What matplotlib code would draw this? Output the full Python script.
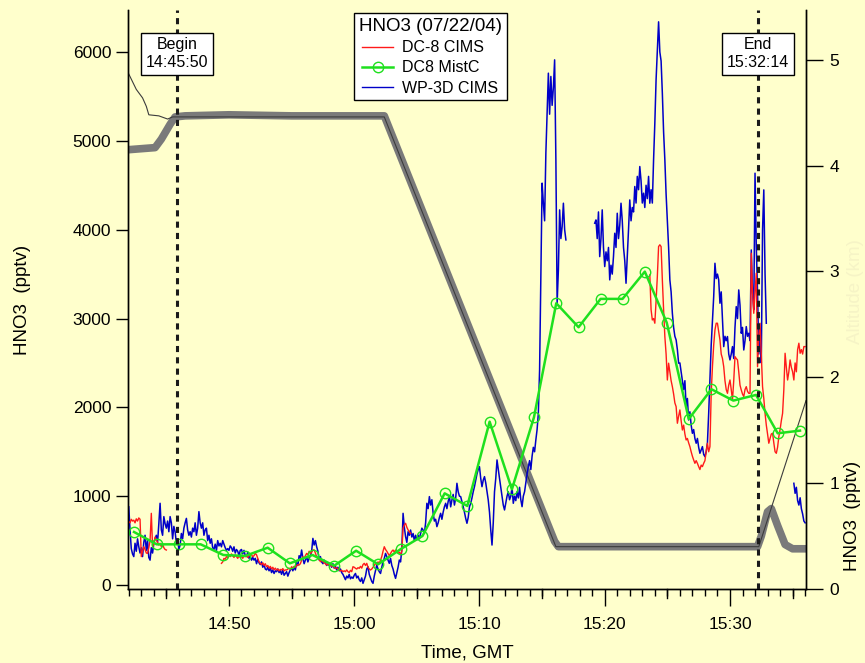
import numpy as np
import matplotlib
matplotlib.use("Agg")
import matplotlib.pyplot as plt
from matplotlib.ticker import FuncFormatter, MultipleLocator

plt.rcParams['font.family'] = ['Liberation Sans', 'DejaVu Sans']

# time axis: minutes after 14:00 GMT
BEGIN_T = 45 + 50 / 60.0   # 14:45:50
END_T = 92 + 14 / 60.0     # 15:32:14

# WP-3D CIMS HNO3 (pptv), 6 s samples, three stretches
wp3d_a_start = 42.0
wp3d_a = [
    880, 620, 410, 350, 320, 470, 380, 520, 430, 360,
    420, 320, 480, 560, 390, 500, 310, 280, 420, 360,
    470, 520, 560, 480, 690, 920, 620, 560, 770, 690,
    640, 720, 600, 770, 700, 520, 660, 600, 470, 520,
    400, 450, 580, 520, 640, 700, 750, 620, 560, 600,
    540, 640, 600, 700, 560, 640, 826, 700, 640, 700,
    560, 620, 640, 500, 560, 470, 520, 420, 400, 460,
    390, 500, 440, 470, 430, 500, 460, 420, 390, 410,
    390, 440, 420, 380, 430, 360, 400, 380, 330, 390,
    400, 350, 390, 330, 320, 370, 300, 320, 280, 310,
    280, 300, 240, 290, 250, 230, 260, 200, 230, 180,
    170, 200, 160, 190, 140, 170, 130, 160, 150, 180,
    140, 160, 120, 170, 110, 130, 150, 100, 140, 170,
    190, 160, 200, 170, 250, 220, 330, 300, 394, 300,
    240, 280, 320, 260, 300, 330, 380, 525, 450, 500,
    431, 380, 281, 320, 260, 240, 280, 250, 220, 240,
    220, 230, 200, 240, 190, 210, 170, 200, 160, 180,
    140, 120, 90, 60, 100, 80, 120, 70, 90, 75,
    110, 130, 80, 100, 60, 40, 80, 19, 60, 100,
    180, 206, 120, 80, 40, 19, 100, 160, 225, 180,
    150, 130, 200, 260, 300, 356, 320, 280, 244, 300,
    220, 180, 120, 75, 140, 200, 281, 260, 400, 807,
    650, 544, 480, 600, 560, 619, 540, 580, 500, 560,
    507, 560, 520, 582, 640, 619, 580, 700, 920, 860,
    995, 900, 960, 807, 720, 740, 657, 700, 760, 807,
    740, 820, 880, 920, 860, 940, 1000, 880, 957, 1020,
    900, 980, 1145, 1050, 1000, 995, 940, 882, 820, 750,
    695, 760, 880, 920, 980, 1050, 1107, 1180, 1250, 1300,
    1332, 1200, 1107, 1180, 1220, 1150, 1050, 957, 820, 620,
    450, 700, 1050, 1200, 1408, 1300, 1200, 1100, 1000, 900,
    845, 920, 1000, 1050, 960, 1000, 1100, 920, 1000, 950,
    1050, 980, 1100, 960, 882, 1000, 1050, 1150, 1250, 1332,
    1400, 1300, 1450, 1550, 1500, 1633, 1750, 1933, 2421, 3435,
    4524, 4300, 4100, 4861, 5300, 5762, 5300, 5725, 5400, 5600,
    5912, 4786, 3173, 3547, 4223, 3900, 4035, 4298, 4000, 3885,
]
wp3d_b_start = 79.2
wp3d_b = [
    4073, 4110, 3900, 4200, 3697, 3900, 4223, 3800,
    3585, 3750, 3650, 3800, 3435, 3600, 3500, 3700, 3960, 3800,
    4185, 3900, 4050, 4298, 4100, 3800, 3650, 3397, 3700, 4000,
    4335, 4100, 4250, 4200, 4486, 4300, 4600, 4450, 4711, 4550,
    4300, 4411, 4250, 4500, 4350, 4600, 4298, 4450, 4300, 4786,
    5200, 5687, 6000, 6340, 6000, 5900, 5537, 5100, 4786, 4400,
    4110, 3800, 3435, 3300, 3059, 2900, 2800, 2759, 2650, 2497,
    2500, 2400, 2308, 2200, 2300, 2008, 2100, 1858, 1950, 1800,
    1708, 1750, 1650, 1596, 1650, 1550, 1483, 1520, 1558, 1470,
    1445, 1500, 1600, 1933, 2308, 2700, 2984, 3247, 3622, 3450,
    3500, 3435, 3172, 3300, 2984, 2684, 2800, 2750, 2797, 2600,
    2534, 2600, 2684, 2550, 2900, 3134, 3000, 3322, 3150, 2834,
    2900, 2646, 2750, 2909, 2800, 2834, 2750, 3772, 3300, 3100,
    4636, 3810, 3300, 2600, 2800, 2500, 4000, 4448, 3500, 2947,
]
wp3d_c_start = 95.1
wp3d_c = [1145, 1032, 1100, 950, 900, 982, 859, 800, 720, 700]

# DC-8 CIMS HNO3 (pptv), 6 s samples
dc8_a_start = 42.0
dc8_a = [
    713, 700, 740, 720, 730, 700, 745, 720, 755, 740,
    320, 380, 431, 400, 360, 356, 420, 500, 807, 431,
    460, 540, 507, 480, 450, 470, 431, 460, 420, 400,
    394,
]
dc8_b_start = 49.4
dc8_b = [
    244, 260, 300, 290, 320, 310,
    338, 320, 350, 330, 310, 340, 320, 300, 330, 310,
    320, 300, 330, 319, 340, 310, 330, 350, 340, 320,
    330, 357, 340, 300, 260, 244, 230, 250, 220, 240,
    206, 220, 190, 210, 180, 200, 170, 190, 169, 180,
    160, 175, 169, 185, 160, 170, 169, 180, 190, 175,
    206, 190, 210, 200, 215, 230, 225, 240, 280, 319,
    300, 330, 356, 340, 380, 356, 370, 394, 394, 360,
    319, 300, 290, 262, 280, 262, 250, 240, 225, 240,
    225, 230, 210, 220, 200, 188, 195, 180, 170, 160,
    165, 150, 160, 150, 170, 150, 140, 165, 150, 206,
    200, 188, 180, 195, 188, 210, 190, 230, 244, 220,
    244, 200, 180, 169, 180, 200, 220, 244, 230, 260,
    244, 280, 320, 380, 431, 400, 380, 356, 330, 356,
    380, 394, 370, 394, 380, 356, 370, 340, 380, 640,
    676, 695, 650, 620, 600, 580,
]
dc8_c_start = 83.6
dc8_c = [
    3491, 3100, 2984, 3000,
    2947, 3200, 3472, 3810, 3830, 3810, 3435, 3100, 2797, 2600,
    2308, 2497, 2400, 2300, 2233, 2150, 2050, 2008, 1821, 1900,
    1971, 1850, 1745, 1800, 1700, 1633, 1650, 1600, 1558, 1500,
    1450, 1408, 1370, 1400, 1370, 1333, 1300, 1350, 1333, 1370,
    1400, 1500, 1596, 1500, 1558, 2158, 2458, 2700, 2871, 2947,
    2947, 2850, 2759, 2600, 2550, 2458, 2300, 2200, 2158, 2250,
    2308, 2200, 2083, 2300, 2571, 2550, 2534, 2400, 2250, 2196,
    2150, 2121, 2200, 2233, 2180, 2158, 2158, 3735, 3300, 3059,
    3300, 3510, 2458, 2800, 2947, 2600, 2233, 2100, 1933, 1800,
    1700, 1596, 1650, 1700, 1708, 1600, 1500, 1483, 1550, 1670,
    1750, 1850, 1933, 2200, 2609, 2450, 2308, 2400, 2534, 2450,
    2400, 2308, 2500, 2400, 2650, 2722, 2609, 2650, 2600, 2684,
    2684,
]

# DC-8 mist chamber averages
mistc_t = [42.42, 44.23, 46.04, 47.74, 49.55, 51.28, 53.09, 54.86, 56.67, 58.40,
           60.15, 61.91, 63.72, 65.45, 67.22, 69.03, 70.81, 72.59, 74.35, 76.13,
           77.91, 79.67, 81.42, 83.20, 84.95, 86.71, 88.52, 90.27, 92.08, 93.81,
           95.59]
mistc_v = [597, 458, 458, 458, 338, 327, 420, 244, 338, 217,
           386, 233, 405, 552, 1032, 890, 1839, 1077, 1888, 3172,
           2902, 3221, 3221, 3528, 2954, 1869, 2204, 2076, 2140, 1708,
           1738]

# altitudes (km)
p3_alt_t = [41.94, 44.1, 44.6, 45.0, 45.3, 45.7, 46.5, 50.0, 55.0, 62.4,
            76.0, 76.3, 85.0, 92.2, 92.5, 93.0, 93.3, 93.8, 94.4, 95.0, 96.07]
p3_alt = [4.15, 4.17, 4.25, 4.33, 4.39, 4.46, 4.47, 4.48, 4.47, 4.47,
          0.45, 0.40, 0.40, 0.40, 0.50, 0.73, 0.76, 0.60, 0.42, 0.38, 0.38]
dc8_alt_t = [41.94, 42.6, 43.1, 43.4, 43.6, 44.4, 45.1, 45.5, 62.4, 76.1, 92.3, 96.07]
dc8_alt = [4.88, 4.72, 4.64, 4.56, 4.48, 4.47, 4.44, 4.46, 4.46, 0.40, 0.40, 1.78]


def times(start, vals):
    return start + 0.1 * np.arange(len(vals))


bg = '#ffffcc'
fig = plt.figure(figsize=(8.65, 6.63), dpi=100, facecolor=bg)
ax = fig.add_axes([0.148, 0.1116, 0.7838, 0.8733])
ax2 = ax.twinx()
ax.set_zorder(ax2.get_zorder() + 1)
ax.patch.set_visible(False)
ax2.set_facecolor(bg)

# altitude traces on the right axis
ax2.plot(p3_alt_t, p3_alt, color='#7a7a7a', lw=5.5, solid_capstyle='round',
         solid_joinstyle='round')
ax2.plot(dc8_alt_t, dc8_alt, color='#3c3c3c', lw=0.8)

# HNO3 traces
for st, vals in [(wp3d_a_start, wp3d_a), (wp3d_b_start, wp3d_b), (wp3d_c_start, wp3d_c)]:
    ax.plot(times(st, vals), vals, color='#0000c8', lw=1.1)
for st, vals in [(dc8_a_start, dc8_a), (dc8_b_start, dc8_b), (dc8_c_start, dc8_c)]:
    ax.plot(times(st, vals), vals, color='#ff1a1a', lw=1.0)
ax.plot(mistc_t, mistc_v, color='#1ee01e', lw=1.8, marker='o', ms=7.5,
        mfc='none', mec='#1ee01e', mew=1.0)

for t in (BEGIN_T, END_T):
    ax.axvline(t, color='#1a1a1a', lw=2.2, ls=(0, (2.0, 1.7)), zorder=5)

box = dict(boxstyle='square,pad=0.3', fc='white', ec='black', lw=1)
ax.text(BEGIN_T, 5978, 'Begin\n14:45:50', ha='center', va='center', fontsize=11.5,
        linespacing=1.25, bbox=box, zorder=6)
ax.text(END_T, 5978, 'End\n15:32:14', ha='center', va='center', fontsize=11.5,
        linespacing=1.25, bbox=box, zorder=6)

# legend proxies
h_red, = ax.plot([], [], color='#ff1a1a', lw=1.0)
h_green, = ax.plot([], [], color='#1ee01e', lw=1.8, marker='o', ms=7.5, mfc='none', mew=1.0)
h_blue, = ax.plot([], [], color='#0000c8', lw=1.0)
leg = ax.legend([h_red, h_green, h_blue], ['DC-8 CIMS', 'DC8 MistC', 'WP-3D CIMS'],
                title='HNO3 (07/22/04)', loc='upper center', bbox_to_anchor=(0.446, 0.994),
                fontsize=11.5, title_fontsize=13.5, frameon=True, fancybox=False,
                handlelength=1.9, handletextpad=0.6, labelspacing=0.32,
                borderpad=0.3, borderaxespad=0)
leg.get_frame().set_edgecolor('black')
leg.get_frame().set_linewidth(1.0)
leg.get_frame().set_facecolor('white')
leg.get_frame().set_alpha(1)
leg.set_zorder(10)

ax.set_xlim(41.94, 96.07)
ax.set_ylim(-45, 6473)
ax2.set_ylim(0, 5.47)

ax.xaxis.set_major_locator(MultipleLocator(10))
ax.xaxis.set_minor_locator(MultipleLocator(1))
ax.xaxis.set_major_formatter(FuncFormatter(lambda m, p: f"{14 + int(round(m)) // 60}:{int(round(m)) % 60:02d}"))
ax.set_yticks(np.arange(0, 6001, 1000))
ax2.set_yticks(np.arange(0, 6, 1))

for a in (ax, ax2):
    a.spines['top'].set_visible(False)
    for s in a.spines.values():
        s.set_linewidth(1.0)
ax.tick_params(axis='x', which='major', direction='out', length=12, width=1,
               labelsize=12.5, pad=8)
ax.tick_params(axis='x', which='minor', direction='out', length=5, width=1)
ax.tick_params(axis='y', direction='out', length=9, width=1, labelsize=12.5, pad=3)
ax2.tick_params(axis='y', direction='out', length=12, width=1, labelsize=12.5, pad=5)

# medium ticks at the five-minute marks
for m in range(45, 96, 10):
    ax.plot([m, m], [0, -0.016], transform=ax.get_xaxis_transform(),
            color='black', lw=1, clip_on=False)

ax.set_xlabel('Time, GMT', fontsize=13.5, labelpad=9)
ax.set_ylabel('HNO3  (pptv)', fontsize=13.5, labelpad=30)
fig.text(0.985, 0.222, 'HNO3  (pptv)', rotation=90, ha='center', va='center', fontsize=13.5)
fig.text(0.989, 0.56, 'Altitude (km)', rotation=90, ha='center', va='center',
         fontsize=13.5, color='#f6f4c6')

fig.savefig('out.png', dpi=100, facecolor=bg)
